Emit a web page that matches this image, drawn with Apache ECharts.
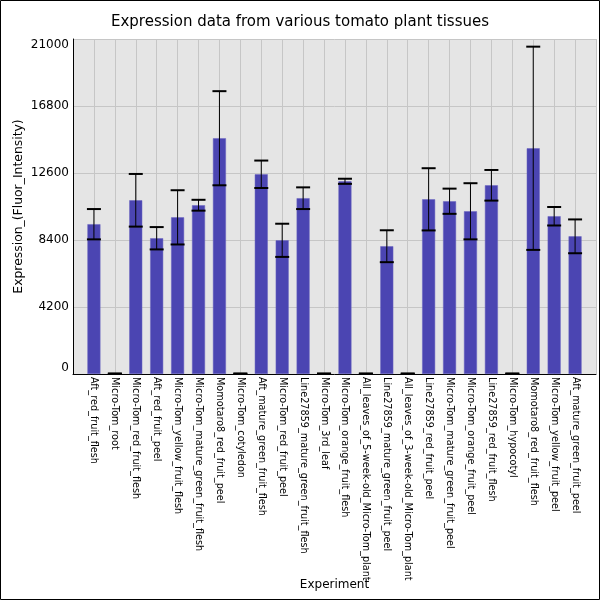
<!DOCTYPE html>
<html>
<head>
<meta charset="utf-8">
<script src="https://cdn.jsdelivr.net/npm/echarts@6/dist/echarts.min.js"></script>
<style>
  html, body { margin: 0; padding: 0; background: #fff; }
  #chart { width: 600px; height: 600px; }
</style>
</head>
<body>
<div id="chart"></div>
<script>
// 数据
const tissues = [
    'Aft_red_fruit_flesh', 'Micro-Tom_root', 'Micro-Tom_red_fruit_flesh', 'Aft_red_fruit_peel',
    'Micro-Tom_yellow_fruit_flesh', 'Micro-Tom_mature_green_fruit_flesh', 'Momotaro8_red_fruit_peel',
    'Micro-Tom_cotyledon', 'Aft_mature_green_fruit_flesh', 'Micro-Tom_red_fruit_peel',
    'Line27859_mature_green_fruit_flesh', 'Micro-Tom_3rd_leaf', 'Micro-Tom_orange_fruit_flesh',
    'All_leaves_of_5-week-old_Micro-Tom_plant', 'Line27859_mature_green_fruit_peel',
    'All_leaves_of_3-week-old_Micro-Tom_plant', 'Line27859_red_fruit_peel',
    'Micro-Tom_mature_green_fruit_peel', 'Micro-Tom_orange_fruit_peel', 'Line27859_red_fruit_flesh',
    'Micro-Tom_hypocotyl', 'Momotaro8_red_fruit_flesh', 'Micro-Tom_yellow_fruit_peel',
    'Aft_mature_green_fruit_peel'
];
const expression = [
    9390, 20, 10890, 8510, 9820, 10580, 14780, 20, 12520, 8380, 11020, 20,
    12080, 20, 8010, 20, 10950, 10830, 10200, 11830, 20, 14150, 9890, 8630
];
const stdError = [
    950, 15, 1650, 700, 1700, 340, 2950, 15, 860, 1040, 680, 15,
    160, 15, 1000, 15, 1950, 790, 1760, 960, 15, 6370, 580, 1060
];
const yTicks = [0, 4200, 8400, 12600, 16800, 21000];

// 初始化图表
document.addEventListener('DOMContentLoaded', () => {
    const myChart = echarts.init(document.getElementById('chart'));

    // 两端各留一格空白
    const cats = [''].concat(tissues, ['']);
    const barData = [null].concat(expression, [null]);
    const errData = expression.map((v, i) => [i + 1, v - stdError[i], v + stdError[i]]);

    const option = {
        animation: false,
        backgroundColor: '#fff',
        textStyle: { fontFamily: 'DejaVu Sans' },
        title: {
            text: 'Expression data from various tomato plant tissues',
            left: 'center',
            top: 10,
            textStyle: { fontSize: 15, fontWeight: 'normal', color: '#000', fontFamily: 'DejaVu Sans' }
        },
        graphic: [{
            type: 'rect',
            shape: { x: 0.5, y: 0.5, width: 599, height: 599 },
            style: { fill: 'none', stroke: '#000', lineWidth: 1 },
            z: 100
        }],
        grid: {
            left: 73, right: 4, top: 39, bottom: 226,
            outerBoundsMode: 'none',
            containLabel: false,
            show: true, backgroundColor: '#e5e5e5', borderWidth: 0
        },
        xAxis: {
            type: 'category',
            data: cats,
            boundaryGap: false,
            name: 'Experiment',
            nameLocation: 'middle',
            nameGap: 205,
            nameMoveOverlap: false,
            nameTextStyle: { fontSize: 12, color: '#000' },
            axisLine: { lineStyle: { color: '#000', width: 1 } },
            axisTick: { show: false },
            axisLabel: { rotate: -90, fontSize: 9.7, color: '#000', margin: 3, interval: 0 },
            splitLine: { show: true, lineStyle: { color: '#c6c6c6', width: 1 } }
        },
        yAxis: {
            type: 'value',
            min: yTicks[0],
            max: yTicks[yTicks.length - 1],
            interval: 4200,
            name: 'Expression_(Fluor_Intensity)',
            nameLocation: 'middle',
            nameGap: 48,
            nameMoveOverlap: false,
            nameTextStyle: { fontSize: 12.4, color: '#000' },
            axisLine: { show: true, lineStyle: { color: '#000', width: 1 } },
            axisTick: { show: false },
            axisLabel: {
                fontSize: 12, color: '#000', margin: 4,
                formatter: v => String(v),
                verticalAlignMinLabel: 'bottom',
                verticalAlignMaxLabel: 'top'
            },
            splitLine: { show: true, lineStyle: { color: '#c6c6c6', width: 1 } }
        },
        series: [
            {
                type: 'bar',
                data: barData,
                barWidth: 13,
                itemStyle: { color: '#4b45b2', borderColor: '#6a65c0', borderWidth: 0.5 },
                z: 2
            },
            {
                type: 'custom',
                data: errData,
                z: 3,
                renderItem: (params, api) => {
                    const x = api.value(0);
                    const lo = api.coord([x, api.value(1)]);
                    const hi = api.coord([x, api.value(2)]);
                    const half = 7;
                    const style = { stroke: '#000', lineWidth: 1 };
                    const cap = { stroke: '#000', lineWidth: 2 };
                    return {
                        type: 'group',
                        children: [
                            { type: 'line', shape: { x1: hi[0], y1: hi[1], x2: lo[0], y2: lo[1] }, style: style },
                            { type: 'line', shape: { x1: hi[0] - half, y1: hi[1], x2: hi[0] + half, y2: hi[1] }, style: cap },
                            { type: 'line', shape: { x1: lo[0] - half, y1: lo[1], x2: lo[0] + half, y2: lo[1] }, style: cap }
                        ]
                    };
                }
            }
        ]
    };

    myChart.setOption(option);
});
</script>
</body>
</html>
